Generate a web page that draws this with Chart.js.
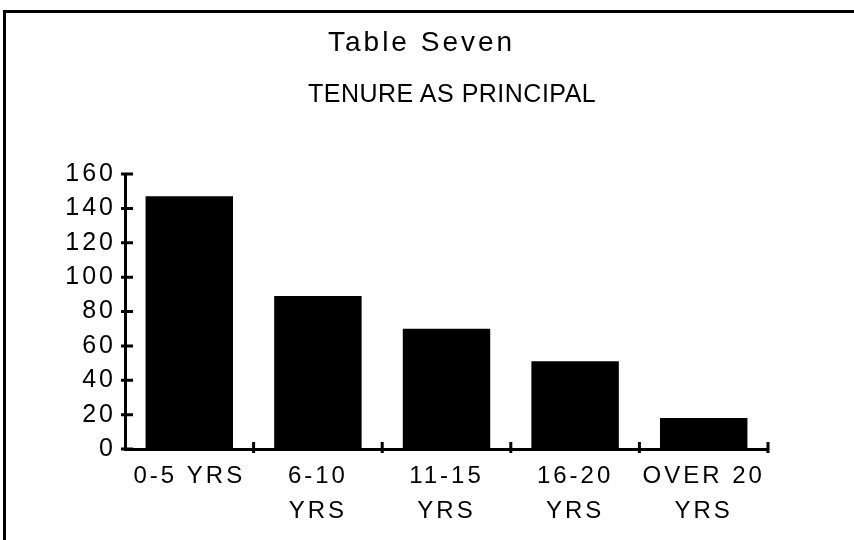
<!DOCTYPE html>
<html>
<head>
<meta charset="utf-8">
<script src="https://cdn.jsdelivr.net/npm/chart.js@4.4.1/dist/chart.umd.min.js"></script>
<style>
    html, body { margin: 0; padding: 0; background: #fff; }
    #wrap { position: relative; width: 854px; height: 540px; overflow: hidden; }
    #frame { position: absolute; left: 3px; top: 10px; width: 900px; height: 600px;
             border-left: 3px solid #000; border-top: 3px solid #000; }
    .ttl { position: absolute; font-family: 'Liberation Sans', Arial, sans-serif; color: #000; white-space: nowrap; }
    #title { left: 328px; top: 28px; font-size: 28px; line-height: 28px; letter-spacing: 3px; }
    #subtitle { left: 308px; top: 81px; font-size: 25px; line-height: 25px; letter-spacing: 0.5px; }
    canvas { position: absolute; left: 0; top: 0; }
</style>
</head>
<body>
<div id="wrap">
    <canvas id="chart" width="854" height="540"></canvas>
    <div id="frame"></div>
    <div id="title" class="ttl">Table Seven</div>
    <div id="subtitle" class="ttl">TENURE AS PRINCIPAL</div>
</div>
<script>
const categories = ["0-5 YRS", ["6-10", "YRS"], ["11-15", "YRS"], ["16-20", "YRS"], ["OVER 20", "YRS"]];
const principals = [147, 89, 70, 51, 18];
const yMin = 0;
const yMax = 160;
const yStep = 20;

const fontFamily = "'Liberation Sans', Arial, sans-serif";

// tick marks that cross the axis lines, like the original
const axisMarks = {
    id: 'axisMarks',
    beforeDraw(chart) {
        chart.ctx.letterSpacing = '3px';
    },
    afterDatasetsDraw(chart) {
        const ctx = chart.ctx;
        ctx.letterSpacing = '0px';
        const x = chart.scales.x;
        const y = chart.scales.y;
        ctx.save();
        ctx.strokeStyle = '#000';
        ctx.lineWidth = 3;
        ctx.beginPath();
        y.ticks.forEach(t => {
            let py = y.getPixelForValue(t.value);
            ctx.moveTo(y.right - 4, py);
            ctx.lineTo(y.right + 8, py);
        });
        let step = (x.right - x.left) / categories.length;
        for (let i = 1; i <= categories.length; i++) {
            let px = x.left + i * step;
            ctx.moveTo(px, x.top - 7);
            ctx.lineTo(px, x.top + 4);
        }
        ctx.stroke();
        ctx.restore();
    }
};

new Chart(document.getElementById('chart'), {
    type: 'bar',
    data: {
        labels: categories,
        datasets: [{
            data: principals,
            backgroundColor: '#000',
            borderWidth: 0,
            barPercentage: 0.68,
            categoryPercentage: 1
        }]
    },
    options: {
        responsive: false,
        animation: false,
        layout: { padding: { left: 0, top: 174, right: 86, bottom: 0 } },
        plugins: {
            legend: { display: false },
            tooltip: { enabled: false }
        },
        scales: {
            x: {
                grid: { display: true, drawOnChartArea: false, drawTicks: false, color: 'rgba(0,0,0,0)' },
                border: { display: true, color: '#000', width: 3 },
                ticks: {
                    color: '#000',
                    padding: 10,
                    maxRotation: 0,
                    autoSkip: false,
                    font: { family: fontFamily, size: 24, lineHeight: 1.46 }
                },
                afterFit(scale) { scale.height = 91; }
            },
            y: {
                min: yMin,
                max: yMax,
                grid: { display: true, drawOnChartArea: false, drawTicks: false, color: 'rgba(0,0,0,0)' },
                border: { display: true, color: '#000', width: 3 },
                ticks: {
                    stepSize: yStep,
                    color: '#000',
                    padding: 9,
                    font: { family: fontFamily, size: 25 }
                },
                afterFit(scale) { scale.width = 125; }
            }
        }
    },
    plugins: [axisMarks]
});
</script>
</body>
</html>
